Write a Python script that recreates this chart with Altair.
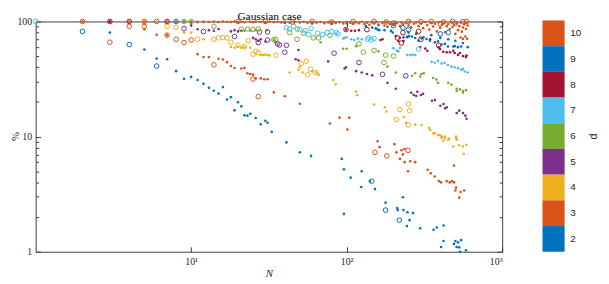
import altair as alt
import pandas as pd

# ---------------- data ----------------
D_VALUES = [2, 3, 4, 5, 6, 7, 8, 9, 10]
D_COLORS = ["#0072BD", "#D95319", "#EDB120", "#7E2F8E", "#77AC30",
            "#4DBEEE", "#A2142F", "#0072BD", "#D95319"]
CHART_TITLE = "Gaussian case"

d2_dots = [(3, 80), (5, 57), (6, 47.6), (7, 47), (8, 37), (9, 31.8), (10, 33), (11, 31), (12, 28.7),
           (13, 26.5), (14, 25), (15, 23.7), (16, 26.9), (17, 21), (18, 22), (19, 16.9), (20, 19.9),
           (21, 18.3), (22, 15.3), (23, 15.2), (24, 15.8), (26, 14.5), (28, 12.8), (30, 13.7),
           (31, 13.2), (33, 11), (41, 8.9), (50, 7.3), (59, 6.8), (93, 6.4), (96, 5.2), (96, 2.13),
           (106, 4.4), (124, 3.65), (125, 5.0), (141, 4.1), (152, 3.5), (178, 2.67), (211, 2.4),
           (213, 2.3), (230, 2.97), (232, 2.3), (246, 2.2), (267, 2.17), (254, 1.88), (244, 1.67),
           (297, 1.6), (362, 1.55), (380, 1.62), (420, 1.69), (420, 1.24), (405, 1.1), (490, 1.17),
           (500, 1.24), (520, 1.21), (545, 1.26), (510, 1.1), (530, 1.09), (535, 1.0), (585, 1.03)]
d2_circles = [(2, 82), (4, 63), (6, 41), (145, 4.1), (178, 2.3), (218, 1.88)]

d3_dots = [(5, 85.6), (6, 76.5), (7, 76), (11, 52), (12, 49), (13, 49), (15, 47.4), (16, 46.7),
           (17, 44.3), (18, 41), (19, 39.4), (21, 39), (22, 39.5), (23, 35.5), (24, 35), (25, 34.5),
           (26, 32), (28, 32), (29.5, 31.5), (31, 31.5), (34, 24.2), (40, 22.4), (50, 19.3), (78, 13),
           (90, 14.6), (104, 14.6), (101, 11.5), (158, 9.1), (163, 8.1), (203, 8.6), (209, 7.3),
           (225, 7.6), (230, 7.0), (235, 7.8), (220, 6.4), (236, 6.0), (256, 6.1), (276, 6.0),
           (248, 5.0), (332, 5.15), (347, 4.8), (368, 4.5), (392, 4.1), (405, 4.0), (440, 4.1),
           (460, 4.0), (475, 4.1), (490, 4.0), (490, 5.6), (505, 3.6), (500, 3.4), (540, 3.3),
           (530, 2.95), (570, 3.4)]
d3_circles = [(3, 66), (4, 90.7), (5, 90.7), (7, 76), (8, 70), (9, 65.5), (10, 69), (14, 42),
              (25, 31.6), (27, 22.3), (152, 7.3), (181, 6.8), (248, 7.6)]

d4_dots = [(5, 94), (9, 80), (10, 80), (12, 70), (18, 60), (19, 59), (20, 60.5), (21, 59), (22, 60),
           (24, 59), (28, 51), (29, 51), (30, 51.5), (31, 51), (32, 50.5), (43, 36), (49, 38),
           (50, 40), (52, 36), (60, 37), (64, 36), (66, 34.5), (82, 31), (85, 28.5), (115, 24.6),
           (117, 22.9), (150, 19), (176, 18), (180, 16.5), (233, 14.8), (241, 13.2), (276, 12.7),
           (303, 12.6), (339, 11.9), (345, 11.4), (370, 10.7), (398, 10.3), (408, 9.7), (427, 10),
           (456, 9.6), (505, 10), (510, 9.4), (361, 10.66), (388, 10.3), (408, 10.0), (428, 9.7),
           (418, 9.2), (450, 9.4), (484, 8.2), (508, 9.7), (528, 8.4), (560, 8.2), (589, 8.5),
           (566, 7.1)]
d4_circles = [(7, 90.7), (8, 89), (11, 70), (14, 70), (15, 72), (16, 72.5), (17, 72), (18, 66),
              (20, 62), (22, 60.5), (23.3, 68), (25, 52), (26, 55), (27, 53.5), (35, 50.8),
              (51, 43.2), (55, 45.2), (56, 34.5), (58.5, 38.5), (63, 36), (220, 17.2), (254, 16.8),
              (250, 19.2), (209, 14.1), (250, 12.6)]

d5_dots = [(3, 100), (9, 100), (10, 92.5), (11, 85.6), (13, 84), (14, 83), (15, 86), (18, 82),
           (19, 84), (20, 82), (21, 83), (25, 72), (26, 70), (27, 68), (28, 70), (30, 67), (35, 66),
           (49, 56.5), (47, 47), (49, 46), (76, 45), (97, 39), (99, 40), (115, 37), (125, 36),
           (135, 35), (146, 34), (183, 29.3), (207, 26), (260, 24), (270, 23), (285, 24.5),
           (300, 23), (280, 22.5), (310, 23.5), (354, 20.5), (370, 20.8), (400, 18.5), (420, 19.2),
           (430, 17.6), (440, 18), (510, 16), (530, 16.8), (560, 16), (590, 14.3), (580, 15.2)]
d5_circles = [(9, 86.7), (12, 81.8), (19, 74), (27.5, 81), (27, 65.5), (31, 81), (31, 69), (36, 64),
              (37, 62.5), (41, 62), (40, 54), (83, 53), (120, 44), (170, 34.7), (240, 33.7)]

d6_dots = [(9, 100), (22, 83), (24, 83), (26, 84), (30.6, 84), (34, 69), (68, 66), (95, 58),
           (100, 58), (115, 61), (160, 55), (183, 40.5), (207, 36), (263, 33.7), (276, 35.5),
           (302, 35), (313, 35.5), (297, 33.3), (360, 32.3), (377, 31.3), (387, 29.3), (450, 29.3),
           (472, 28.3), (510, 26), (510, 24.9), (535, 25.7), (560, 24.9), (586, 25.3), (560, 24.1)]
d6_circles = [(9, 100), (10, 100), (14, 90.7), (21, 85.5), (23, 86), (25, 85.5), (27, 86),
              (34, 69.5), (35, 70), (43, 80), (48, 86), (48, 70), (53, 79), (61, 72), (66, 72),
              (78, 75.6), (120, 64), (128, 54), (150, 56), (178, 51), (174, 44), (200, 50)]

d7_dots = [(11, 98), (12, 98.5), (85, 78), (95, 71), (97, 72), (100, 73), (107, 70), (112, 69),
           (118, 71), (125, 70), (200, 58.6), (210, 56), (215, 55), (220, 59), (245, 51), (256, 51),
           (266, 51.5), (276, 51), (352, 44.6), (368, 43.8), (387, 45.5), (408, 43.2), (427, 43.8),
           (448, 41.8), (472, 40.5), (495, 40), (520, 39.3), (545, 38), (560, 38.7), (575, 36.8),
           (600, 36)]
d7_circles = [(1, 100), (41, 88), (43, 86), (45.6, 90.7), (50, 85.6), (54, 83), (57, 77), (59, 87),
              (65, 79), (70, 77), (75, 80), (80, 82), (86, 80), (88, 78), (136, 70), (139, 72),
              (144, 69), (150, 71), (290, 57.6)]

d8_dots = [(3, 100), (99, 85), (107, 83), (113, 83), (120, 84), (165, 69), (170, 70), (207, 74.6),
           (220, 72.2), (215, 67.7), (232, 67.7), (245, 73), (297, 60), (320, 58.3), (330, 55.7),
           (344, 70), (390, 59.5), (398, 57.5), (418, 54.6), (440, 54), (462, 54), (485, 55.7),
           (495, 53.2), (520, 51.2), (535, 53.2), (560, 50), (585, 49), (590, 50.5)]
d8_circles = [(3, 100), (4, 100), (7, 100), (99, 85), (135, 85), (212, 72), (225, 65), (230, 80),
              (290, 82), (390, 62), (300, 70)]

d9_dots = [(30, 98), (40, 97), (60, 96), (80, 95), (100, 96), (110, 95.5), (133, 91), (146, 88.4),
           (154, 87), (158, 85), (162, 84), (175, 84), (193, 82.8), (198, 80.2), (160, 93), (183, 90),
           (200, 93), (232, 72.7), (245, 73.6), (252, 74.6), (263, 74), (276, 71.8), (290, 68.1),
           (303, 71.3), (312, 73), (326, 70.4), (343, 68), (369, 66), (387, 67.3), (408, 63),
           (428, 63.8), (448, 60.6), (485, 60.6), (495, 61), (520, 59.8), (545, 60.6), (600, 59.8),
           (250, 80), (280, 78), (350, 76), (400, 72), (450, 70), (500, 68), (560, 65)]
d9_circles = [(8, 100), (200, 92), (230, 88), (250, 85), (400, 78), (450, 80)]

d10_dots = [(2, 100), (4, 100), (5, 100), (7, 100), (8, 100), (10, 100), (11, 99.5), (12, 100),
            (13, 99), (14, 100), (15, 99), (16, 100), (17, 99.5), (18, 99), (19, 100), (20, 99),
            (21, 99.5), (22, 98.5), (24, 99.5), (25, 98.5), (26, 100), (28, 99), (30, 98),
            (32, 99.5), (34, 98.5), (36, 99), (38, 98), (40, 99.5), (43, 97.5), (46, 99), (50, 98),
            (53, 99.5), (56, 97), (60, 98.5), (64, 97.5), (68, 99), (72, 96.5), (76, 98), (80, 99.5),
            (85, 97), (90, 98.5), (95, 96), (100, 99), (105, 97.5), (110, 95.5), (115, 98.5),
            (120, 96.5), (125, 99.5), (130, 95), (135, 97.5), (140, 93.5), (145, 98.5), (150, 96),
            (155, 99), (160, 94), (170, 97), (175, 92), (180, 98.5), (190, 95), (200, 93.5),
            (205, 99), (210, 96.5), (220, 91), (225, 98), (230, 94.5), (240, 97), (250, 92.5),
            (255, 99.5), (260, 89), (270, 95.5), (280, 98), (282, 79.6), (290, 91), (300, 96),
            (310, 87.5), (320, 99), (330, 93), (340, 85), (350, 97), (360, 90.5), (370, 95.5),
            (380, 82), (390, 98.5), (400, 88), (410, 93.5), (420, 97), (430, 80.5), (440, 91),
            (450, 95), (460, 86), (470, 99), (480, 89.5), (490, 93.5), (500, 78), (510, 96.5),
            (520, 84), (530, 91), (540, 98), (550, 81.5), (560, 88.5), (570, 94.5), (580, 74),
            (585, 86), (590, 97), (595, 70.8), (540, 72.5), (560, 70.5), (600, 92)]
d10_circles = [(2, 100), (5, 100), (6, 100), (20, 100), (30, 100), (45, 99), (60, 100), (80, 99),
               (110, 100), (150, 100), (180, 99), (250, 100), (300, 99.5), (350, 100), (420, 99),
               (480, 100), (560, 99.5), (590, 100), (200, 97), (400, 95), (500, 96)]

X_TICKS = [10, 100, 1000]
X_TICK_LABELS = ["10\u00b9", "10\u00b2", "10\u00b3"]
Y_TICKS = [1, 10, 100]
Y_ALL_TICKS = [1, 2, 3, 4, 5, 6, 7, 8, 9, 10, 20, 30, 40, 50, 60, 70, 80, 90, 100]

# ---------------- build table ----------------
series = [(2, d2_dots, d2_circles), (3, d3_dots, d3_circles), (4, d4_dots, d4_circles),
          (5, d5_dots, d5_circles), (6, d6_dots, d6_circles), (7, d7_dots, d7_circles),
          (8, d8_dots, d8_circles), (9, d9_dots, d9_circles), (10, d10_dots, d10_circles)]
rows = []
for d, dots, circles in series:
    for n, p in dots:
        rows.append({"N": n, "pct": p, "d": d, "kind": "dot"})
    for n, p in circles:
        rows.append({"N": n, "pct": p, "d": d, "kind": "circle"})
df = pd.DataFrame(rows)

W, H = 472, 233
SERIF = "Liberation Serif"
SANS = "Liberation Sans"
AX = "#404040"
TXT = "#262626"

xs = alt.Scale(type="log", domain=[1, 1000], nice=False)
ys = alt.Scale(type="log", domain=[1, 100], nice=False)
cs = alt.Scale(domain=D_VALUES[::-1], range=D_COLORS[::-1])

label_expr = " : ".join(
    f"datum.value == {v} ? '{t}'" for v, t in zip(X_TICKS, X_TICK_LABELS)) + " : ''"
major_test = " || ".join(f"datum.value == {v}" for v in Y_TICKS)
y_tick_size = {"condition": {"test": major_test, "value": 5}, "value": 3}

legend = alt.Legend(
    orient="none", legendX=511, legendY=-1, direction="vertical",
    symbolType="M-0.86,-1H0.86V1H-0.86Z", symbolSize=676, symbolStrokeWidth=0,
    symbolOpacity=1, rowPadding=0, labelOffset=4, labelFont=SANS, labelFontSize=10,
    labelColor=TXT, title=None, padding=0, offset=0,
)

base = alt.Chart(df)

dots = base.transform_filter("datum.kind == 'dot'").mark_circle(size=7, opacity=1).encode(
    x=alt.X("N:Q", scale=xs, axis=alt.Axis(
        orient="bottom", values=X_TICKS, labelExpr=label_expr, ticks=False, domain=False,
        grid=False, labelPadding=5, labelFont=SERIF, labelFontSize=10, labelColor=TXT,
        title="N", titleFont=SERIF, titleFontSize=11, titleFontStyle="italic",
        titleFontWeight="normal", titleColor=TXT, titlePadding=1)),
    y=alt.Y("pct:Q", scale=ys, axis=alt.Axis(
        orient="left", values=Y_TICKS, format="d", ticks=False, domain=False, grid=False,
        labelPadding=4, labelFont=SERIF, labelFontSize=10, labelColor=TXT,
        title="%", titleFont=SERIF, titleFontSize=11, titleFontWeight="normal",
        titleColor=TXT, titleAngle=270, titleX=-20, titleY=116, titleAlign="center",
        titleBaseline="middle")),
    color=alt.Color("d:O", scale=cs, legend=legend),
)

circles = base.transform_filter("datum.kind == 'circle'").mark_point(
    shape="circle", filled=False, size=22, strokeWidth=1, opacity=1).encode(
    x=alt.X("N:Q", scale=xs, axis=alt.Axis(
        orient="top", offset=-H, values=X_TICKS, labels=False, domain=False, grid=False,
        tickSize=5, tickColor=AX, title=None)),
    y=alt.Y("pct:Q", scale=ys, axis=alt.Axis(
        orient="right", offset=-W, values=Y_ALL_TICKS, labels=False, domain=False, grid=False,
        tickSize=y_tick_size, tickColor=AX, title=None)),
    color=alt.Color("d:O", scale=cs, legend=None),
)

# inward ticks along the top and right edges; their titles carry the chart
# heading and the colour-bar label "d"
frame = base.mark_point(opacity=0).encode(
    x=alt.X("N:Q", scale=xs, axis=alt.Axis(
        orient="bottom", offset=-H, values=X_TICKS, labels=False, domain=False, grid=False,
        tickSize=5, tickColor=AX, title=CHART_TITLE, titleFont=SERIF, titleFontSize=11.5,
        titleFontWeight="normal", titleColor="black", titleX=W / 2, titleY=-1.5,
        titleAlign="center", titleBaseline="alphabetic", titleAngle=0)),
    y=alt.Y("pct:Q", scale=ys, axis=alt.Axis(
        orient="left", offset=-W, values=Y_ALL_TICKS, labels=False, domain=False, grid=False,
        tickSize=y_tick_size, tickColor=AX, title="d", titleFont=SANS, titleFontSize=11,
        titleFontWeight="normal", titleColor=TXT, titleAngle=270, titleX=92, titleY=116,
        titleAlign="center", titleBaseline="middle")),
)

chart = alt.layer(dots, circles, frame).resolve_axis(
    x="independent", y="independent"
).properties(
    width=W, height=H,
    autosize=alt.AutoSizeParams(type="none"),
    padding={"left": 28, "top": 12, "right": 100, "bottom": 28},
).configure_view(stroke=AX, strokeWidth=1).configure_axis(tickWidth=1)

chart.save("out.html", embed_options={"renderer": "svg", "actions": False})
